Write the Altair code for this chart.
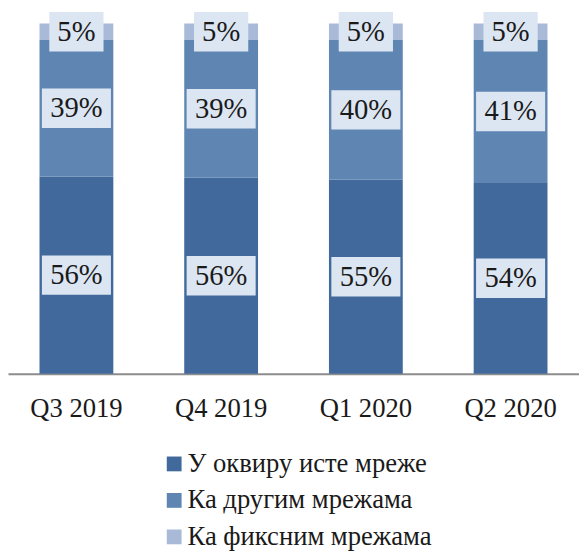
import altair as alt
import pandas as pd

quarters = ["Q3 2019", "Q4 2019", "Q1 2020", "Q2 2020"]
series = ["У оквиру исте мреже", "Ка другим мрежама", "Ка фиксним мрежама"]
same_net = [56.3, 56.0, 55.4, 54.5]
other_net = [39.0, 39.3, 39.9, 40.8]
fixed_net = [4.7, 4.7, 4.7, 4.7]
same_lbl = ["56%", "56%", "55%", "54%"]
other_lbl = ["39%", "39%", "40%", "41%"]
fixed_lbl = ["5%", "5%", "5%", "5%"]
colors = ["#41699B", "#5F86B3", "#A9BAD9"]

rows = []
for i, q in enumerate(quarters):
    base = 0.0
    for k, (vals, lbls) in enumerate([(same_net, same_lbl), (other_net, other_lbl), (fixed_net, fixed_lbl)]):
        v = vals[i]
        rows.append({
            "quarter": q, "series": series[k], "ord": k, "value": v,
            "mid": base + v / 2, "label": lbls[i],
            "bw": 55 if len(lbls[i]) == 2 else 70,
        })
        base += v
df = pd.DataFrame(rows)

FONT = "Liberation Serif"

x = alt.X("quarter:N", sort=quarters, title=None,
          scale=alt.Scale(paddingInner=0.49, paddingOuter=0.2177),
          axis=alt.Axis(labelAngle=0, labelFont=FONT, labelFontSize=27, labelColor="#1a1a1a",
                        ticks=False, tickSize=0, labelPadding=35, domainColor="#8c8c8c",
                        domainWidth=2, labelBaseline="middle"))

bars = alt.Chart(df).mark_bar(stroke=None).encode(
    x=x,
    y=alt.Y("value:Q", stack="zero", axis=None, scale=alt.Scale(domain=[0, 100], nice=False)),
    color=alt.Color("series:N", sort=series,
                    scale=alt.Scale(domain=series, range=colors),
                    legend=alt.Legend(title=None, orient="none", legendX=155, legendY=433,
                                      labelFont=FONT, labelFontSize=27, labelColor="#1a1a1a",
                                      labelLimit=0,
                                      symbolType="square", symbolSize=225,
                                      symbolStrokeWidth=0, labelOffset=0, rowPadding=9,
                                      padding=0, labelBaseline="middle")),
    order=alt.Order("ord:Q"),
)

boxes = alt.Chart(df).mark_bar(color="#DCE6F2", yOffset=-20, y2Offset=20).encode(
    x=alt.X("quarter:N", sort=quarters),
    y=alt.Y("mid:Q"),
    y2="mid:Q",
    size=alt.Size("bw:Q", scale=None, legend=None),
)

texts = alt.Chart(df).mark_text(font=FONT, fontSize=29, color="#1a1a1a", baseline="middle", dy=0).encode(
    x=alt.X("quarter:N", sort=quarters),
    y=alt.Y("mid:Q"),
    text="label:N",
)

chart = alt.layer(bars, boxes, texts).properties(
    width=579, height=355,
    autosize=alt.AutoSizeParams(type="none"),
    padding={"top": 12, "left": 0, "right": 0, "bottom": 177},
).configure_view(stroke=None)

chart.save("out.html", embed_options={"renderer": "svg", "actions": False})
